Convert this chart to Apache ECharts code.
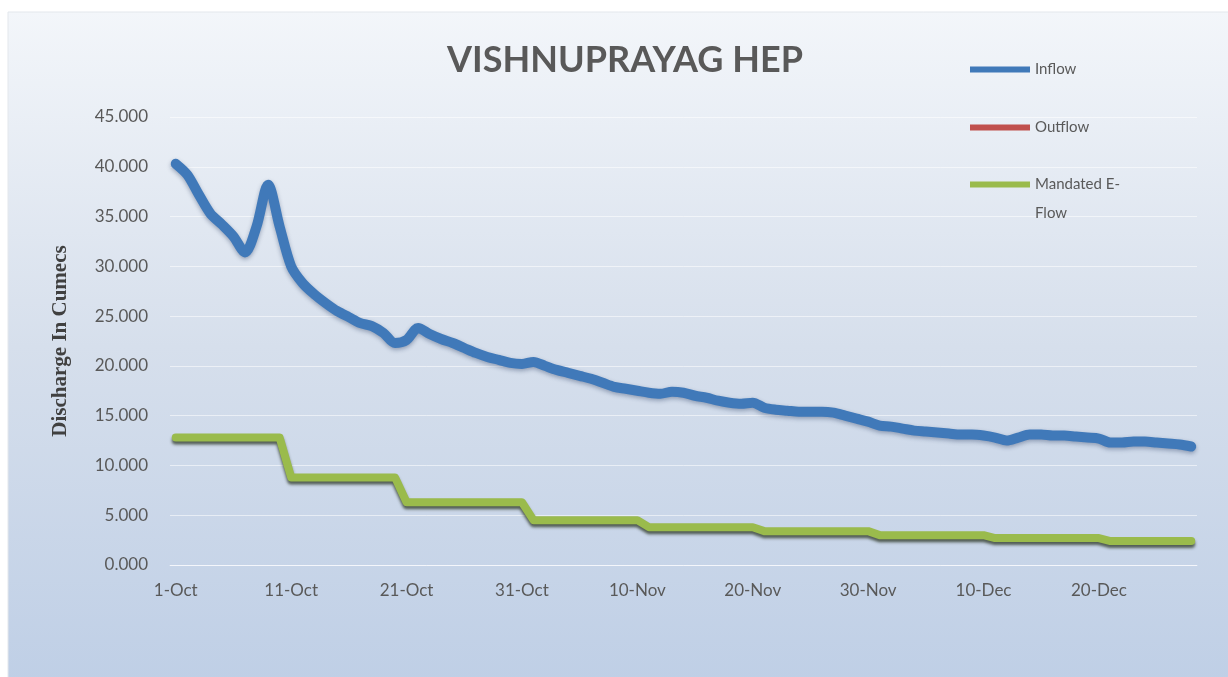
<!DOCTYPE html>
<html>
<head>
<meta charset="utf-8">
<title>VISHNUPRAYAG HEP</title>
<script src="https://cdn.jsdelivr.net/npm/echarts@6/dist/echarts.min.js"></script>
<style>
  html, body { margin: 0; padding: 0; background: #fff; }
  #main { width: 1228px; height: 677px; }
</style>
</head>
<body>
<div id="main"></div>
<script>
// 日期 1-Oct .. 28-Dec
var months = [["Oct", 31], ["Nov", 30], ["Dec", 28]];
var dates = [];
months.forEach(function (m) {
  for (var d = 1; d <= m[1]; d++) dates.push(d + "-" + m[0]);
});

// inflow, cumecs
var inflow = [
  40.3, 39.2, 37.2, 35.3, 34.2, 33.0, 31.4, 34.0, 38.2, 34.0,
  30.0, 28.3, 27.2, 26.3, 25.5, 24.9, 24.3, 24.0, 23.3, 22.3,
  22.6, 23.8, 23.2, 22.7, 22.3, 21.8, 21.3, 20.9, 20.6, 20.3,
  20.2, 20.4, 20.0, 19.6, 19.3, 19.0, 18.7, 18.3, 17.9, 17.7,
  17.5, 17.3, 17.2, 17.4, 17.3, 17.0, 16.8, 16.5, 16.3, 16.2,
  16.3, 15.8, 15.6, 15.5, 15.4, 15.4, 15.4, 15.3, 15.0, 14.7,
  14.4, 14.0, 13.9, 13.7, 13.5, 13.4, 13.3, 13.2, 13.1, 13.1,
  13.0, 12.8, 12.5, 12.8, 13.1, 13.1, 13.0, 13.0, 12.9, 12.8,
  12.7, 12.3, 12.3, 12.4, 12.4, 12.3, 12.2, 12.1, 11.9
];

// mandated e-flow (steps)
var eflow = [
  12.8, 12.8, 12.8, 12.8, 12.8, 12.8, 12.8, 12.8, 12.8, 12.8,
  8.8, 8.8, 8.8, 8.8, 8.8, 8.8, 8.8, 8.8, 8.8, 8.8,
  6.3, 6.3, 6.3, 6.3, 6.3, 6.3, 6.3, 6.3, 6.3, 6.3, 6.3,
  4.5, 4.5, 4.5, 4.5, 4.5, 4.5, 4.5, 4.5, 4.5, 4.5,
  3.8, 3.8, 3.8, 3.8, 3.8, 3.8, 3.8, 3.8, 3.8, 3.8,
  3.4, 3.4, 3.4, 3.4, 3.4, 3.4, 3.4, 3.4, 3.4, 3.4,
  3.0, 3.0, 3.0, 3.0, 3.0, 3.0, 3.0, 3.0, 3.0, 3.0,
  2.7, 2.7, 2.7, 2.7, 2.7, 2.7, 2.7, 2.7, 2.7, 2.7,
  2.4, 2.4, 2.4, 2.4, 2.4, 2.4, 2.4, 2.4
];

// outflow sits under the e-flow line in the picture
var outflow = eflow.slice();

var yTicks = [0, 45, 5];

var myChart = echarts.init(document.getElementById("main"));

var legendText = {
  fontFamily: "Lato",
  fontSize: 15,
  color: "#595959",
  lineHeight: 29
};

var option = {
  backgroundColor: "#ffffff",
  animation: false,
  graphic: [{
    type: "rect",
    z: -10,
    shape: { x: 8, y: 12, width: 1230, height: 670 },
    style: {
      fill: new echarts.graphic.LinearGradient(0, 0, 0, 1, [
        { offset: 0, color: "#f3f6fa" },
        { offset: 0.5, color: "#d6dfec" },
        { offset: 1, color: "#bfcfe6" }
      ]),
      stroke: "#e3e7ec",
      lineWidth: 1
    }
  }],
  title: {
    text: "VISHNUPRAYAG HEP",
    left: 620,
    top: 37,
    textAlign: "center",
    textStyle: {
      fontFamily: "Lato",
      fontWeight: "bold",
      fontSize: 36,
      color: "#595959"
    }
  },
  legend: [
    {
      orient: "vertical",
      left: 965,
      top: 50,
      itemWidth: 60,
      itemHeight: 6,
      itemGap: 29,
      icon: "rect",
      textStyle: legendText,
      data: ["Inflow", "Outflow"]
    },
    {
      // 第三项两行，首行和图标对齐
      orient: "vertical",
      left: 965,
      top: 136,
      itemWidth: 60,
      itemHeight: 6,
      icon: "rect",
      textStyle: legendText,
      formatter: function (name) {
        return "\nMandated E-\nFlow";
      },
      data: ["Mandated E-Flow"]
    }
  ],
  grid: {
    left: 170,
    right: 31,
    top: 117,
    bottom: 112
  },
  xAxis: {
    type: "category",
    boundaryGap: true,
    data: dates,
    axisLine: { show: true, lineStyle: { color: "rgba(255,255,255,0.55)", width: 1 } },
    axisTick: { show: false },
    axisLabel: {
      interval: 9,
      margin: 17,
      fontFamily: "Lato",
      fontSize: 17,
      color: "#595959"
    }
  },
  yAxis: {
    type: "value",
    min: yTicks[0],
    max: yTicks[1],
    interval: yTicks[2],
    name: "Discharge In Cumecs",
    nameLocation: "middle",
    nameRotate: 90,
    nameGap: 99,
    nameTextStyle: {
      fontFamily: "Liberation Serif",
      fontWeight: "bold",
      fontSize: 21,
      color: "#404040"
    },
    axisLine: { show: false },
    axisTick: { show: false },
    splitLine: { lineStyle: { color: "rgba(255,255,255,0.55)", width: 1 } },
    axisLabel: {
      margin: 22,
      fontFamily: "Lato",
      fontSize: 17,
      color: "#595959",
      formatter: function (v) { return v.toFixed(3); }
    }
  },
  series: [
    {
      name: "Inflow",
      type: "line",
      data: inflow,
      symbol: "none",
      smooth: 0.3,
      z: 3,
      itemStyle: { color: "#4079b9" },
      lineStyle: {
        color: "#4079b9",
        width: 10,
        cap: "round",
        join: "round",
        shadowColor: "rgba(20,40,80,0.35)",
        shadowBlur: 4,
        shadowOffsetY: 2
      }
    },
    {
      name: "Outflow",
      type: "line",
      data: outflow,
      symbol: "none",
      z: 2,
      itemStyle: { color: "#c0504d" },
      lineStyle: { color: "#c0504d", width: 6 }
    },
    {
      name: "Mandated E-Flow",
      type: "line",
      data: eflow,
      symbol: "none",
      z: 4,
      itemStyle: { color: "#9abb4c" },
      lineStyle: {
        color: "#9abb4c",
        width: 8,
        cap: "round",
        join: "round",
        shadowColor: "rgba(30,40,20,0.7)",
        shadowBlur: 3,
        shadowOffsetY: 3
      }
    }
  ]
};

myChart.setOption(option);
</script>
</body>
</html>
